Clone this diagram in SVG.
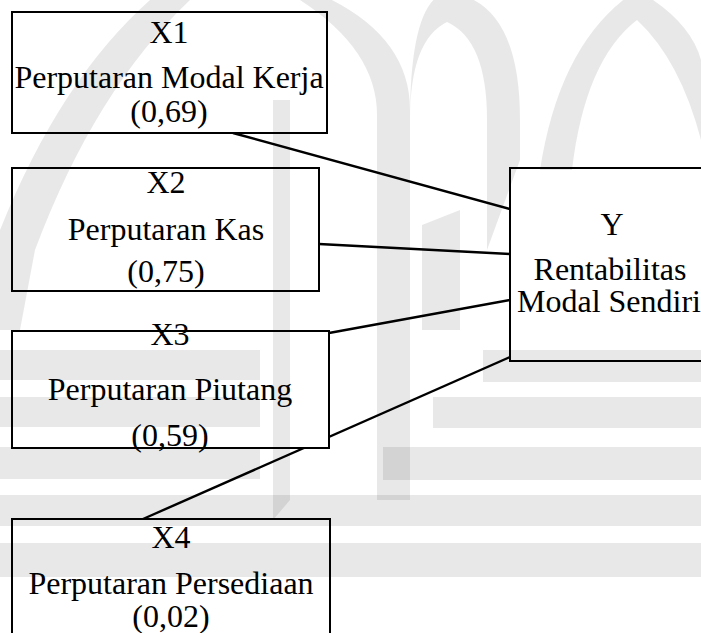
<svg xmlns="http://www.w3.org/2000/svg" width="701" height="633" viewBox="0 0 701 633">
<style>
.box{fill:#fff;stroke:#000;stroke-width:2}
.t{font-size:32px;fill:#000;text-anchor:middle}
.c{stroke:#000;stroke-width:2.4;fill:none}
.wm{fill:#000;fill-opacity:0.09}
</style>
<rect width="701" height="633" fill="#fff"/>
<g id="connectors">
<line class="c" x1="233" y1="133" x2="510" y2="209"/>
<line class="c" x1="319" y1="244" x2="510" y2="254"/>
<line class="c" x1="329" y1="333" x2="510" y2="300"/>
<line class="c" x1="143" y1="519" x2="510" y2="357"/>
</g>
<g font-family="'Liberation Serif', 'DejaVu Serif', serif">
<g id="X1">
<rect class="box" x="12" y="12" width="315" height="121"/>
<text class="t" x="169" y="43">X1</text>
<text class="t" x="169" y="88">Perputaran Modal Kerja</text>
<text class="t" x="169" y="122">(0,69)</text>
</g>
<g id="X2">
<rect class="box" x="12" y="168" width="307" height="123"/>
<text class="t" x="166" y="193">X2</text>
<text class="t" x="166" y="240">Perputaran Kas</text>
<text class="t" x="166" y="282">(0,75)</text>
</g>
<g id="X3">
<rect class="box" x="12" y="331" width="317" height="117"/>
<text class="t" x="170" y="345">X3</text>
<text class="t" x="170" y="400">Perputaran Piutang</text>
<text class="t" x="170" y="446">(0,59)</text>
</g>
<g id="X4">
<rect class="box" x="12" y="519" width="318" height="130"/>
<text class="t" x="171" y="548">X4</text>
<text class="t" x="171" y="594">Perputaran Persediaan</text>
<text class="t" x="171" y="627">(0,02)</text>
</g>
<g id="Y">
<rect class="box" x="510" y="168" width="200" height="193"/>
<text class="t" x="612" y="235">Y</text>
<text class="t" x="610" y="280">Rentabilitas</text>
<text class="t" x="609" y="312">Modal Sendiri</text>
</g>
</g>
<g id="watermark">
<path class="wm" d="M300,0 L332,0 Q410,40 410,110 L410,500 L377,500 L377,115 Q377,50 300,0 Z"/>
<path class="wm" d="M410,120 Q410,0 447,-8 Q520,0 520,120 L520,160 L487,250 L487,120 Q487,40 447,22 Q410,40 410,120 Z"/>
<path class="wm" d="M540,170 Q560,40 637,-10 Q690,20 701,60 L701,140 Q680,60 637,20 Q585,60 572,170 Z"/>
<path class="wm" d="M273,100 L290,100 L290,500 L273,520 Z"/>
<path class="wm" d="M422,225 L460,210 L460,330 L422,330 Z"/>
<path class="wm" d="M0,230 Q60,80 150,0 L190,0 Q95,90 35,250 L20,330 L0,330 Z"/>
<rect class="wm" x="0" y="350" width="260" height="30"/>
<rect class="wm" x="483" y="350" width="218" height="32"/>
<rect class="wm" x="0" y="397" width="260" height="30"/>
<rect class="wm" x="433" y="397" width="268" height="31"/>
<rect class="wm" x="0" y="447" width="260" height="32"/>
<rect class="wm" x="383" y="447" width="318" height="33"/>
<rect class="wm" x="0" y="495" width="701" height="31"/>
<rect class="wm" x="0" y="543" width="701" height="34"/>
</g>
</svg>
